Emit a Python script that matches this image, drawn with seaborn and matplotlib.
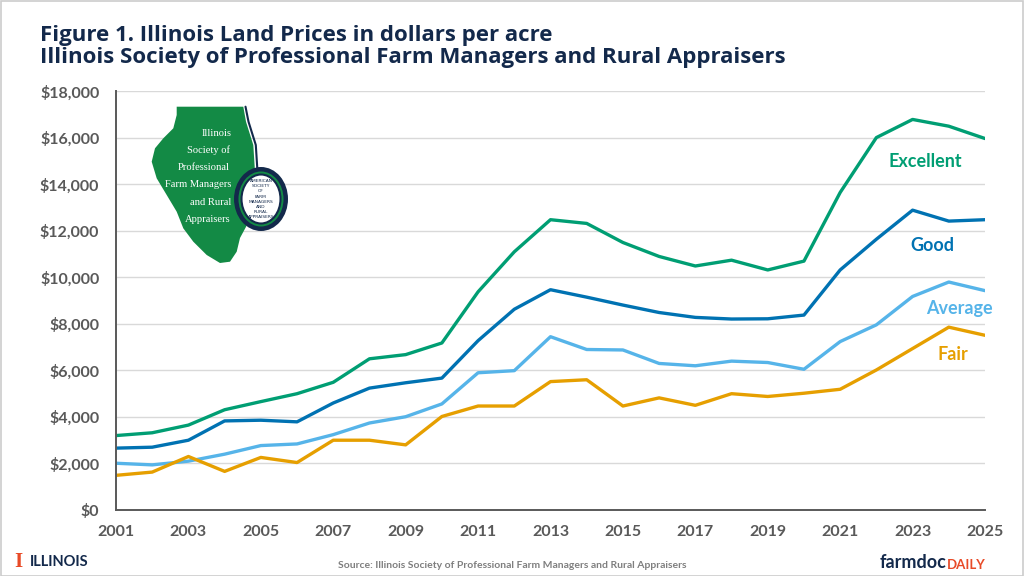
import matplotlib
matplotlib.use("Agg")
import matplotlib.pyplot as plt
from matplotlib.patches import Polygon, Ellipse, Rectangle
from matplotlib.ticker import FuncFormatter, MultipleLocator, FixedLocator
import numpy as np
import pandas as pd
import seaborn as sns

years = list(range(2001, 2026))
excellent = [3200, 3320, 3650, 4310, 4660, 5000, 5490, 6500, 6680, 7180,
             9380, 11100, 12480, 12320, 11500, 10900, 10490, 10740, 10320, 10700,
             13650, 16010, 16790, 16500, 15970]
good = [2660, 2700, 3000, 3830, 3860, 3790, 4600, 5240, 5470, 5670,
        7280, 8630, 9470, 9150, 8810, 8490, 8280, 8210, 8220, 8380,
        10320, 11640, 12890, 12420, 12480]
average = [2010, 1940, 2100, 2400, 2770, 2840, 3240, 3740, 4010, 4560,
           5900, 5990, 7450, 6900, 6880, 6300, 6200, 6400, 6340, 6050,
           7240, 7960, 9180, 9800, 9430]
fair = [1490, 1630, 2300, 1660, 2260, 2040, 3000, 3000, 2800, 4020,
        4470, 4470, 5520, 5600, 4470, 4820, 4500, 5000, 4880, 5020,
        5190, 6020, 6940, 7860, 7510]
tick_years = list(range(2001, 2026, 2))

series_names = ["Excellent", "Good", "Average", "Fair"]
series_colors = ["#009E73", "#0072B2", "#56B4E9", "#E69F00"]
label_pos = [(2023.35, 15000), (2023.55, 11350), (2024.3, 8650), (2024.1, 6680)]

df = pd.concat([
    pd.DataFrame({"Year": years, "Price": vals, "Quality": name})
    for name, vals in zip(series_names, [excellent, good, average, fair])
])

sns.set_theme(style="white")
plt.rcParams["font.family"] = ["Lato", "DejaVu Sans"]

W, H = 1024, 576
fig = plt.figure(figsize=(W / 100, H / 100), dpi=100)
fig.patch.set_facecolor("white")

def fx(px):
    return px / W

def fy(py):
    return 1 - py / H

ax = fig.add_axes([fx(116), fy(510), fx(985) - fx(116), fy(91.3) - fy(510)])

sns.lineplot(data=df, x="Year", y="Price", hue="Quality",
             palette=dict(zip(series_names, series_colors)),
             linewidth=2.4, ax=ax, legend=False)

ax.set_xlim(2001, 2025)
ax.set_ylim(0, 18000)
ax.yaxis.set_major_locator(MultipleLocator(2000))
ax.yaxis.set_major_formatter(FuncFormatter(lambda v, p: f"${v:,.0f}"))
ax.xaxis.set_major_locator(FixedLocator(tick_years))
ax.xaxis.set_major_formatter(FuncFormatter(lambda v, p: f"{int(round(v))}"))
ax.xaxis.set_minor_locator(MultipleLocator(1))
ax.set_xlabel("")
ax.set_ylabel("")
ax.grid(axis="y", color="#d9d9d9", linewidth=1.0)
ax.set_axisbelow(True)
for s in ["top", "right"]:
    ax.spines[s].set_visible(False)
for s in ["left", "bottom"]:
    ax.spines[s].set_color("#595959")
    ax.spines[s].set_linewidth(1.4)
ax.tick_params(axis="both", which="both", direction="out", color="#595959",
               width=1.2, labelcolor="#595959")
ax.tick_params(axis="y", length=6, pad=6, labelsize=11.5)
ax.tick_params(axis="x", which="major", length=6, pad=5, labelsize=11.5)
ax.tick_params(axis="x", which="minor", length=6)
for lab in ax.get_xticklabels() + ax.get_yticklabels():
    lab.set_fontweight("bold")

for name, col, (lx, ly) in zip(series_names, series_colors, label_pos):
    ax.text(lx, ly, name, color=col, fontsize=13, fontweight="bold",
            ha="center", va="center")

# Title
navy = "#13294B"
fig.text(fx(40), fy(35), "Figure 1. Illinois Land Prices in dollars per acre",
         fontsize=16, fontweight="bold", color=navy, va="center", ha="left",
         family=["Open Sans", "DejaVu Sans"])
fig.text(fx(40), fy(58), "Illinois Society of Professional Farm Managers and Rural Appraisers",
         fontsize=16, fontweight="bold", color=navy, va="center", ha="left",
         family=["Open Sans", "DejaVu Sans"])

# Logo (approximate Illinois shape + emblem)
ill_pts = [(176.7, 106.7), (243.3, 106.7), (246, 121.7), (253.3, 145), (255, 171.7),
           (252, 195), (247, 225), (240, 238), (236.7, 251.7), (230, 261.7),
           (220, 263), (206.7, 255), (193.3, 241.7), (183.3, 228.3), (176.7, 211.7),
           (166.7, 195), (156.7, 178.3), (151.7, 161.7), (155, 148.3), (163.3, 138.3),
           (173.3, 128.3), (176.7, 115)]
fig.patches.append(Polygon([(fx(a), fy(b)) for a, b in ill_pts], closed=True,
                           transform=fig.transFigure, facecolor="#138a45",
                           edgecolor="none", zorder=5))
edge_pts = [(245.5, 106.7), (248.5, 121.7), (255.8, 145), (257.5, 171.7), (255, 190)]
fig.lines.append(plt.Line2D([fx(a) for a, b in edge_pts], [fy(b) for a, b in edge_pts],
                            transform=fig.transFigure, color=navy, linewidth=1.5, zorder=5))
logo_lines = ["Illinois", "Society of", "Professional", "Farm Managers", "and Rural", "Appraisers"]
logo_x = [232, 230, 230, 231, 231, 231]
for i, (t, lx) in enumerate(zip(logo_lines, logo_x)):
    fig.text(fx(lx), fy(133 + i * 17.3), t, color="white", fontsize=7.6,
             family=["Liberation Serif", "DejaVu Serif"], ha="right", va="center", zorder=6)
cx, cy = 261, 199
fig.patches.append(Ellipse((fx(cx), fy(cy)), 54 / W, 64 / H, transform=fig.transFigure,
                           facecolor=navy, edgecolor="none", zorder=6))
fig.patches.append(Ellipse((fx(cx), fy(cy)), 45 / W, 55 / H, transform=fig.transFigure,
                           facecolor="#138a45", edgecolor="none", zorder=6))
fig.patches.append(Ellipse((fx(cx), fy(cy)), 39 / W, 49 / H, transform=fig.transFigure,
                           facecolor="white", edgecolor=navy, linewidth=1.5, zorder=6))
for i, t in enumerate(["AMERICAN", "SOCIETY", "OF", "FARM", "MANAGERS", "AND", "RURAL", "APPRAISERS"]):
    fig.text(fx(cx), fy(181 + i * 5.2), t, color=navy, fontsize=3.2, ha="center",
             va="center", zorder=7, family=["DejaVu Sans"])

# Footer
fig.text(fx(14), fy(562), "I", color="#E84A27", fontsize=15, fontweight="bold",
         family=["Liberation Serif", "DejaVu Serif"], va="center", ha="left")
fig.text(fx(30), fy(562), "ILLINOIS", color=navy, fontsize=10.5, fontweight="bold",
         va="center", ha="left")
fig.text(fx(512), fy(565), "Source: Illinois Society of Professional Farm Managers and Rural Appraisers",
         color="#7f7f7f", fontsize=7.5, fontweight="bold", va="center", ha="center",
         family=["Liberation Sans Narrow", "Lato", "DejaVu Sans"])
t1 = fig.text(fx(880), fy(563), "farmdoc", color=navy, fontsize=13, fontweight="bold",
              va="center", ha="left")
fig.canvas.draw()
bb = t1.get_window_extent()
fig.text(bb.x1 / W, fy(565), "DAILY", color="#E84A27", fontsize=9.5, fontweight="bold",
         va="center", ha="left")

# Border
fig.patches.append(Rectangle((0.5 / W, 0.5 / H), 1 - 1.5 / W, 1 - 1.5 / H,
                             transform=fig.transFigure, fill=False,
                             edgecolor="#cccccc", linewidth=1.2))

fig.savefig("out.png", dpi=100, facecolor="white")
